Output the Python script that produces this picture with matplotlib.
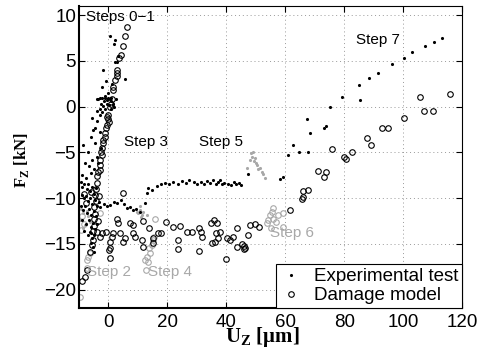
import matplotlib
matplotlib.use("Agg")
import matplotlib.pyplot as plt

plt.rcParams['font.family'] = ['Liberation Sans', 'DejaVu Sans']
plt.rcParams['mathtext.fontset'] = 'custom'
plt.rcParams['mathtext.rm'] = 'Liberation Serif:bold'
plt.rcParams['mathtext.bf'] = 'Liberation Serif:bold'

# Experimental test (black dots)
exp_x = [0.7, 2.4, 1.8, 3.4, 2.4, -1.7, 5.5, -0.7, -2.0, 0.0, 1.2, 3.0,
         -3.4, -2.7, -2.0, -1.5, -1.0, -0.5, 0.0, 0.5, 1.0, 1.5, 2.0, -2.5, -1.8, -1.2, -0.6, 0.3, -3.0, -2.2, 1.0, 2.5, -1.3, 0.8,
         -3.7, -3.7, -5.4, -4.4, -6.0, -5.1, -4.0, -2.7, -8.5, -7.0, -3.0, -2.5, -4.5, -5.5, -6.5, -8.0, -9.0, -7.5, -6.0, -5.0, -4.0, -3.5,
         -9.3, -8.8, -8.1, -7.4, -6.8, -6.2, -5.5, -4.8, -4.2, -9.0, -8.2, -7.6, -6.9, -6.1, -5.4, -4.6, -3.9, -3.2,
         -9.4, -8.6, -7.8, -7.2, -6.4, -5.8, -5.0, -4.3, -8.9, -7.5, -6.6, -5.9, -5.2, -4.6, -8.2, -7.0, -6.3, -5.6, -4.9,
         -6.0, -5.3, -4.7, -5.8, -4.0,
         -2.7, -1.5, -0.5, 0.7, 1.8, 3.0, 4.2, 5.3, 6.4, 7.5, 8.5, 9.5, 10.8,
         12.5, 13.2, 13.6, 14.9, 16.6, 18.0, 19.3, 20.5, 22.0, 23.5, 25.0, 26.5, 27.5, 29.0, 30.0, 31.5, 32.5, 33.5, 34.5, 35.5,
         36.5, 37.2, 38.0, 38.6, 39.4, 40.5, 41.5, 42.5, 43.3, 44.2, 45.0,
         47.5, 58.3, 59.3, 61.0, 62.7, 64.7, 67.8, 68.5, 67.5, 73.2, 73.9, 75.3, 79.3, 85.1, 85.4, 88.5, 91.5, 96.3, 100.3, 103.0,
         107.5, 110.5, 113.2]
exp_y = [7.7, 7.3, 6.9, 5.5, 4.9, 4.05, 3.0, 2.8, 2.1, 1.5, 2.5, 4.9,
         0.8, 0.9, 1.0, 0.6, 0.9, 0.7, 1.0, 0.8, 0.6, 0.3, 0.0, 0.3, 0.1, -0.2, 0.3, 0.2, -0.3, -0.6, 1.0, 0.8, 1.2, -0.3,
         0.8, -0.5, -1.2, -2.3, -3.3, -2.5, -1.6, -0.9, -4.2, -5.0, -2.8, -4.5, -4.0, -5.8, -6.5, -6.2, -7.5, -7.8, -7.2, -6.8, -5.5, -6.2,
         -8.2, -8.8, -8.5, -9.0, -8.4, -9.2, -8.8, -9.5, -8.9, -9.6, -10.0, -9.8, -10.3, -10.0, -10.6, -10.2, -10.8, -10.4,
         -10.9, -11.3, -10.9, -11.6, -11.2, -11.8, -11.4, -12.0, -12.4, -12.8, -12.4, -13.1, -12.7, -13.4, -13.6, -14.0, -13.7, -14.3, -14.0,
         -14.9, -15.3, -15.9, -13.8, -12.8,
         -11.0, -10.6, -10.9, -10.7, -10.4, -10.5, -10.2, -10.6, -11.1, -11.0, -11.3, -11.2, -11.5,
         -10.5, -9.4, -8.9, -9.1, -8.7, -8.5, -8.3, -8.4, -8.2, -8.4, -8.1, -8.3, -8.0, -8.2, -8.4, -8.2, -8.5, -8.1, -8.3, -8.0,
         -8.4, -8.2, -8.0, -8.5, -8.3, -8.4, -8.6, -8.2, -8.5, -8.3, -8.6,
         -7.4, -7.9, -7.7, -5.3, -4.2, -4.9, -4.9, -2.9, -1.3, -2.3, -2.1, 0.0, 1.1, 2.4, 0.7, 3.1, 3.7, 4.7, 5.3, 6.0,
         6.6, 7.1, 7.5]

# Experimental test, highlighted steps (grey dots)
exp_grey_x = [47.1, 48.5, 48.8, 49.2, 49.8, 49.5, 50.2, 50.5, 50.8, 51.5, 52.2, 52.5, 53.2, 48.2,
              -9.5, -8.5, -7.8, -6.8, -6.1, -8.5, -9.2, -7.2,
              9.8, 10.2, 10.8, 10.8, 11.5, 11.9, 13.2, 11.2]
exp_grey_y = [-6.7, -5.1, -5.5, -5.0, -5.6, -5.9, -6.1, -6.4, -6.8, -6.7, -7.1, -7.4, -7.8, -5.8,
              -12.4, -11.6, -12.9, -12.0, -12.6, -13.3, -11.2, -11.4,
              -11.5, -11.6, -11.3, -10.9, -11.8, -11.5, -11.8, -12.1]

# Damage model (black circles)
mod_x = [6.4, 5.5, 5.1, 4.4, 3.7, 3.1, 3.1, 3.1, 2.4, 1.7, 1.7, 1.4, 0.7, 0.0, 0.0, -0.3, -0.7, -1.0, -1.7, -1.7, -2.0, -2.4,
         -2.7, -3.0, -3.4, -3.7, 0.3, -0.3, 1.0, -1.2, -2.2, -2.9,
         -4.0, -4.2, -4.5, -4.3, -4.7, -4.5, -5.0, -4.8, -5.2, -5.1, -5.4, -6.1, -7.1, -7.8, -8.8, -3.2, -3.5, -6.0, -7.5, -8.4,
         5.1, 3.0, 3.4, 7.5, 8.5, 11.9, 13.9, 19.7, 22.0, 24.4, 26.8, 28.5, 30.8, 31.5, 31.9, 34.9, 35.9, 36.9, 35.3, 36.3,
         37.3, 36.6, 38.0, 40.3, 41.4, 42.4, 43.7, 43.7, 40.0, 30.8, 23.7, 23.7, 18.0, 17.0, 15.3, 15.3, 11.5, 11.9, 9.2, 8.5,
         5.8, 5.1, 4.1, 1.7, 1.4, 0.7, 0.7, 0.3, 0.7, -0.7, -2.7, -2.0, -3.7,
         45.5, 46.1, 46.4, 46.0, 47.5, 48.1, 49.8, 51.2, 61.7, 65.8, 66.1, 66.1, 67.8, 71.2, 73.9, 73.2, 75.9, 80.0, 80.7, 82.7,
         87.8, 89.2, 92.9, 94.9, 100.3, 105.8, 107.1, 110.2, 115.9]
mod_y = [8.7, 7.7, 6.6, 5.7, 5.3, 4.0, 3.7, 3.3, 2.9, 2.2, 1.8, 0.8, 0.0, -0.9, -1.4, -2.0, -2.3, -2.9, -3.6, -4.0, -4.5, -5.0,
         -5.8, -6.4, -7.1, -7.6, -1.7, -1.1, 0.3, -3.3, -5.3, -6.9,
         -8.3, -9.0, -9.6, -10.3, -11.0, -11.7, -12.3, -13.0, -13.6, -14.6, -15.1, -15.9, -17.9, -18.6, -19.0, -9.8, -12.5, -9.3, -10.5, -9.5,
         -9.4, -12.3, -12.7, -12.7, -12.9, -12.5, -13.3, -12.6, -13.1, -13.0, -13.7, -13.7, -13.3, -13.7, -14.2, -12.7, -12.4, -12.7, -14.9, -14.8,
         -14.4, -13.8, -13.7, -14.4, -14.6, -14.2, -13.3, -15.3, -16.6, -15.8, -14.6, -15.6, -13.8, -13.8, -14.4, -14.9, -14.6, -15.3, -14.2, -13.8,
         -14.4, -14.8, -13.8, -13.8, -14.2, -14.8, -15.4, -15.7, -16.5, -13.7, -14.2, -13.8, -13.7,
         -15.0, -15.2, -15.4, -15.5, -14.0, -12.9, -12.8, -13.1, -11.3, -10.1, -9.9, -9.2, -9.1, -7.0, -7.1, -7.7, -4.6, -5.5, -5.7, -5.0,
         -3.4, -4.2, -2.3, -2.3, -1.2, 1.1, -0.5, -0.5, 1.4]

# Damage model, highlighted steps (grey circles)
mod_grey_x = [-6.8, -6.1, -7.1, -7.1, -9.5, -3.0, -9.0, -8.3, -9.3,
              12.5, 13.6, 13.2, 14.2, 13.9, 14.9, 15.3, 15.6, 12.9, 15.9,
              55.6, 56.0, 54.9, 57.6, 59.3, 54.2, 56.0, 53.9, 57.0, 55.3, 59.3]
mod_grey_y = [-16.4, -16.0, -16.8, -17.6, -20.8, -11.6, -12.0, -12.8, -13.5,
              -16.8, -17.0, -16.4, -16.0, -15.4, -15.1, -14.6, -14.2, -17.9, -12.3,
              -11.5, -11.1, -11.8, -11.8, -11.6, -12.4, -12.3, -12.7, -12.6, -13.3, -13.1]

step_labels = ['Steps 0\u22121', 'Step 3', 'Step 5', 'Step 7', 'Step 2', 'Step 4', 'Step 6']
step_x = [-7.5, 5.4, 30.8, 84.0, -7.1, 13.6, 54.9]
step_y = [9.75, -3.9, -3.9, 7.3, -18.1, -18.1, -13.8]
step_col = ['black', 'black', 'black', 'black', '#a8a8a8', '#a8a8a8', '#a8a8a8']

grey = '#a8a8a8'

fig = plt.figure(figsize=(4.78, 3.56), dpi=100)
ax = fig.add_axes([0.165, 0.1348, 0.8017, 0.8483])

ax.plot(exp_grey_x, exp_grey_y, '.', color=grey, ms=4.5, mew=0)
ax.plot(mod_grey_x, mod_grey_y, 'o', mfc='none', mec=grey, ms=4, mew=0.8)
ax.plot(mod_x, mod_y, 'o', mfc='none', mec='black', ms=4, mew=0.8, label='Damage model')
ax.plot(exp_x, exp_y, '.', color='black', ms=4.5, mew=0, label='Experimental test')

for lab, tx, ty, c in zip(step_labels, step_x, step_y, step_col):
    ax.text(tx, ty, lab, color=c, fontsize=11, ha='left', va='center')

ax.set_xlim(-10, 120)
ax.set_ylim(-22, 11)
ax.set_xticks(range(0, 121, 20))
ax.set_yticks(range(-20, 11, 5))
ax.grid(True, color='#999999', linestyle=(0, (1, 3)), linewidth=0.7)
ax.tick_params(direction='in', top=True, right=True, length=4, labelsize=13.5, pad=4)
ax.tick_params(axis='y', pad=2)
for s in ['left', 'bottom']:
    ax.spines[s].set_linewidth(1.5)
for s in ['top', 'right']:
    ax.spines[s].set_linewidth(0.8)

h, l = ax.get_legend_handles_labels()
leg = ax.legend(h[::-1], l[::-1], loc='lower right', borderaxespad=0, fontsize=13.5, fancybox=False,
                edgecolor='black', framealpha=1, handlelength=1.2, handletextpad=0.6, borderpad=0.2,
                labelspacing=0.1, markerscale=1.0)
leg.get_frame().set_linewidth(0.8)

ax.text(-0.151, 0.49, 'F$_\\mathbf{Z}$ [kN]', transform=ax.transAxes, rotation=90, ha='center', va='center',
        family='Liberation Serif', fontweight='bold', fontsize=12)
ax.text(0.478, -0.095, 'U$_\\mathbf{Z}$ [\u03bcm]', transform=ax.transAxes, ha='center', va='center',
        family='Liberation Serif', fontweight='bold', fontsize=15)

fig.savefig('out.png', dpi=100)
